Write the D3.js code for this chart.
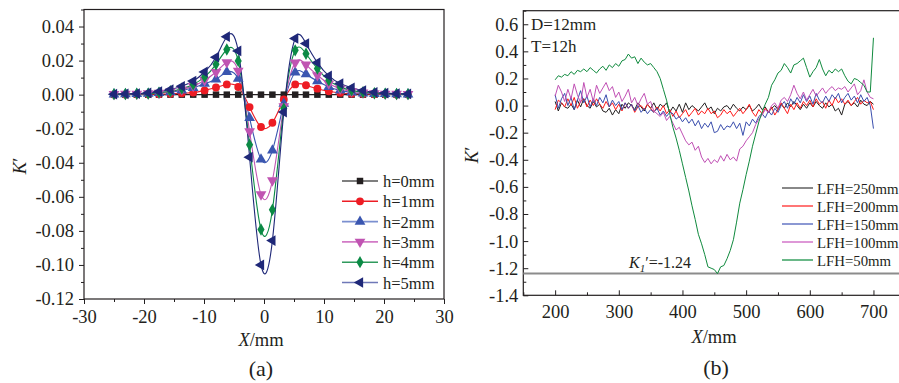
<!DOCTYPE html>
<html>
<head>
<meta charset="utf-8">
<script src="https://cdn.jsdelivr.net/npm/d3@7"></script>
<style>
  body { margin: 0; background: #fff; }
  svg { display: block; }
  svg text { font-family: "Liberation Serif", "Times New Roman", serif; }
</style>
</head>
<body>
<svg id="chart" width="899" height="383"></svg>
<script>
// ---- panel (a) data ----
const xA = [-25.0, -23.1, -21.2, -19.3, -17.5, -15.6, -13.7, -11.8, -9.9, -8.0, -6.2, -4.3, -2.4, -0.5,
  1.4, 3.3, 5.2, 7.0, 8.9, 10.8, 12.7, 14.6, 16.5, 18.4, 20.2, 22.1, 24.0];
const hLabels = ['h=0mm', 'h=1mm', 'h=2mm', 'h=3mm', 'h=4mm', 'h=5mm'];
const h0 = [0, 0, 0, 0, 0, 0, 0, 0, 0, 0, 0, 0, 0, 0, 0, 0, 0, 0, 0, 0, 0, 0, 0, 0, 0, 0, 0];
const h1 = [0.0001, 0.0001, 0.0002, 0.0002, 0.0003, 0.0005, 0.0008, 0.0012, 0.0025, 0.0042, 0.006, 0.0045,
  -0.0073, -0.019, -0.0165, -0.0028, 0.006, 0.0055, 0.0035, 0.002, 0.001, 0.0006, 0.0004, 0.0003, 0.0002, 0.0001, 0.0001];
const h2 = [0.0002, 0.0003, 0.0004, 0.0006, 0.001, 0.0015, 0.0025, 0.004, 0.0065, 0.009, 0.0133, 0.0094,
  -0.0137, -0.038, -0.0327, -0.0053, 0.013, 0.012, 0.008, 0.0045, 0.0025, 0.0013, 0.0008, 0.0005, 0.0004, 0.0003, 0.0002];
const h3 = [0.0003, 0.0004, 0.0005, 0.0007, 0.001, 0.0018, 0.003, 0.005, 0.0085, 0.0133, 0.019, 0.014,
  -0.0216, -0.0586, -0.0504, -0.0069, 0.0188, 0.0176, 0.0114, 0.0065, 0.0035, 0.002, 0.0012, 0.0008, 0.0005, 0.0004, 0.0003];
const h4 = [0.0003, 0.0004, 0.0005, 0.0006, 0.0012, 0.002, 0.0035, 0.006, 0.0104, 0.0178, 0.0265, 0.0198,
  -0.0294, -0.0792, -0.0676, -0.0082, 0.026, 0.024, 0.0153, 0.0084, 0.0045, 0.0025, 0.0014, 0.0008, 0.0006, 0.0004, 0.0003];
const h5 = [0.0003, 0.0004, 0.0006, 0.001, 0.0018, 0.003, 0.0049, 0.008, 0.0133, 0.022, 0.034, 0.0257,
  -0.0367, -0.100, -0.0857, -0.0102, 0.033, 0.030, 0.0188, 0.011, 0.0065, 0.004, 0.0024, 0.0014, 0.0009, 0.0006, 0.0004];
const hColors = ['#231f20', '#ed1c24', '#3a56b0', '#c054b2', '#0b8a45', '#1f2878'];
const hLegendColors = ['#555555', '#ed1c24', '#7b8fd0', '#d27ac6', '#2f9a5c', '#6f78b8'];
const xTicksA = [-30, -20, -10, 0, 10, 20, 30];
const yTicksA = [0.04, 0.02, 0.00, -0.02, -0.04, -0.06, -0.08, -0.10, -0.12];

// ---- panel (b) data (sampled every 5 mm from 200 to 700) ----
const xB = d3.range(200, 701, 5);
const lfhLabels = ['LFH=250mm', 'LFH=200mm', 'LFH=150mm', 'LFH=100mm', 'LFH=50mm'];
const lfh250 = [0.03, -0.04, 0.02, -0.01, -0.02, 0.01, -0.03, 0.04, -0.01, 0.05, 0.00, -0.02, 0.03, -0.01, 0.01, -0.04,
  -0.05, -0.02, -0.07, -0.03, -0.06, 0.01, -0.02, 0.02, 0.00, -0.03, 0.02, -0.01, -0.04, 0.01, -0.02, 0.02, -0.03, 0.01,
  -0.01, 0.02, -0.05, -0.01, -0.04, 0.01, -0.05, 0.02, -0.03, 0.00, -0.02, -0.04, -0.01, 0.02, -0.03, -0.01, -0.06, -0.02,
  -0.04, -0.01, 0.00, -0.03, 0.01, -0.02, -0.04, -0.01, -0.03, 0.00, -0.04, -0.02, 0.01, -0.03, -0.01, -0.05, -0.02, 0.00,
  -0.03, 0.01, -0.02, 0.02, -0.01, 0.03, 0.00, -0.03, 0.01, -0.02, 0.02, -0.01, 0.03, 0.00, -0.02, 0.02, -0.01, 0.01,
  -0.04, -0.02, -0.07, 0.01, 0.03, 0.00, 0.02, -0.01, 0.04, 0.01, 0.00, 0.03, 0.01];
const lfh200 = [-0.03, 0.04, 0.02, -0.01, 0.05, 0.00, 0.06, -0.02, 0.03, 0.05, -0.01, 0.04, 0.00, 0.05, 0.01, -0.02,
  0.03, -0.01, 0.02, -0.03, 0.01, -0.04, 0.02, -0.02, 0.01, -0.05, -0.01, 0.00, -0.03, 0.01, -0.02, -0.05, -0.01, -0.04,
  0.00, -0.06, -0.03, -0.08, -0.04, -0.09, -0.06, -0.03, -0.08, -0.05, -0.02, -0.07, -0.04, -0.06, -0.02, -0.06, -0.04,
  -0.09, -0.07, -0.03, -0.06, -0.04, -0.08, -0.05, -0.02, -0.06, -0.03, 0.01, -0.05, -0.08, -0.03, -0.06, -0.02, -0.05,
  -0.01, -0.07, -0.03, 0.02, -0.02, -0.06, 0.01, -0.03, 0.02, -0.02, 0.03, 0.00, 0.04, -0.01, 0.05, 0.01, 0.03, -0.02,
  0.04, 0.00, 0.06, 0.02, 0.05, 0.01, 0.04, 0.00, 0.03, 0.06, 0.01, 0.04, 0.02, 0.03, -0.03];
const lfh150 = [0.08, -0.02, 0.05, 0.09, 0.00, 0.06, -0.03, 0.04, 0.11, 0.02, 0.07, -0.01, 0.05, 0.00, 0.06, 0.02,
  0.08, -0.01, 0.04, 0.00, 0.03, -0.03, 0.02, -0.02, 0.01, -0.04, 0.00, -0.05, -0.02, -0.06, -0.03, -0.05, -0.02, -0.07,
  -0.04, -0.08, -0.05, -0.06, -0.10, -0.08, -0.12, -0.09, -0.13, -0.10, -0.15, -0.11, -0.17, -0.13, -0.16, -0.12, -0.20,
  -0.19, -0.14, -0.18, -0.15, -0.16, -0.12, -0.17, -0.13, -0.22, -0.12, -0.15, -0.10, -0.13, -0.08, -0.06, -0.09, -0.04,
  -0.07, -0.02, -0.05, 0.00, 0.03, -0.02, 0.05, 0.01, 0.06, 0.02, 0.08, 0.03, 0.07, 0.01, 0.09, 0.04, 0.02, 0.07, 0.03,
  0.08, 0.05, 0.09, 0.02, 0.06, 0.09, 0.04, 0.07, 0.02, 0.08, 0.03, 0.06, 0.00, -0.17];
const lfh100 = [0.07, 0.15, 0.10, 0.03, 0.12, 0.05, 0.16, 0.08, 0.02, 0.17, 0.06, 0.12, 0.03, 0.15, 0.09, 0.13, 0.17,
  0.11, 0.14, 0.06, 0.10, 0.03, 0.07, 0.12, 0.02, 0.06, 0.00, 0.05, 0.09, 0.01, 0.03, -0.04, -0.06, -0.08, -0.05, -0.11,
  -0.08, -0.13, -0.18, -0.16, -0.21, -0.26, -0.29, -0.27, -0.33, -0.30, -0.38, -0.42, -0.39, -0.43, -0.40, -0.42, -0.37,
  -0.41, -0.36, -0.40, -0.38, -0.41, -0.32, -0.30, -0.26, -0.23, -0.20, -0.14, -0.10, -0.07, -0.03, -0.05, 0.00, 0.02,
  -0.02, 0.04, 0.06, 0.03, 0.08, 0.15, 0.09, 0.05, 0.10, 0.04, 0.08, 0.12, 0.07, 0.10, 0.13, 0.09, 0.12, 0.14, 0.11, 0.13,
  0.12, 0.14, 0.10, 0.13, 0.16, 0.08, 0.11, 0.19, 0.10, 0.06, 0.05];
const lfh50 = [0.19, 0.22, 0.21, 0.23, 0.22, 0.25, 0.23, 0.26, 0.25, 0.27, 0.25, 0.28, 0.26, 0.24, 0.27, 0.29, 0.26,
  0.30, 0.28, 0.31, 0.29, 0.33, 0.34, 0.38, 0.35, 0.36, 0.31, 0.35, 0.32, 0.30, 0.31, 0.28, 0.25, 0.20, 0.12, 0.04, -0.06,
  -0.16, -0.24, -0.33, -0.43, -0.53, -0.63, -0.74, -0.84, -0.95, -1.02, -1.10, -1.19, -1.20, -1.21, -1.24, -1.19, -1.18,
  -1.13, -1.07, -0.99, -0.86, -0.72, -0.62, -0.51, -0.41, -0.30, -0.21, -0.12, -0.05, 0.01, 0.06, 0.15, 0.19, 0.24, 0.26,
  0.31, 0.28, 0.24, 0.30, 0.31, 0.33, 0.35, 0.28, 0.21, 0.25, 0.28, 0.34, 0.27, 0.22, 0.26, 0.24, 0.27, 0.25, 0.27, 0.22,
  0.18, 0.16, 0.20, 0.19, 0.17, 0.15, 0.10, 0.10, 0.50];
const lfhColors = ['#231f20', '#ff1a1a', '#3b4fae', '#c04fb4', '#108a3e'];
const lfhLegendColors = ['#555555', '#ff3b3b', '#5a6cc0', '#d06cc6', '#2a9a55'];
const xTicksB = [200, 300, 400, 500, 600, 700];
const yTicksB = [0.6, 0.4, 0.2, 0.0, -0.2, -0.4, -0.6, -0.8, -1.0, -1.2, -1.4];
const k1Value = -1.24;

const svg = d3.select('#chart');
const FS = 18.5;
const SERIF = '"Liberation Serif", "Times New Roman", serif';
const INK = '#231f20';

// plain hyphen for negative numbers, like the original figure
const loc = d3.formatLocale({ decimal: '.', thousands: ',', grouping: [3], currency: ['', ''], minus: '-' });

function styleAxis(g) {
  g.attr('font-family', null);
  g.select('.domain').remove();
  g.selectAll('line').attr('stroke', INK);
  g.selectAll('text').attr('font-size', FS).attr('font-family', SERIF).attr('fill', INK);
}

// =========== panel (a) ===========
const boxA = { left: 84, right: 444, top: 9.5, bottom: 299 };
const xa = d3.scaleLinear().domain([-30, 30]).range([boxA.left, boxA.right]);
const ya = d3.scaleLinear().domain([-0.12, 0.05]).range([boxA.bottom, boxA.top]);

const gA = svg.append('g');

// minor ticks
gA.append('g').attr('transform', 'translate(0,' + boxA.bottom + ')')
  .call(d3.axisBottom(xa).tickValues(d3.range(-25, 30, 10)).tickSize(3).tickFormat(''))
  .call(styleAxis);
gA.append('g').attr('transform', 'translate(' + boxA.left + ',0)')
  .call(d3.axisLeft(ya).tickValues([0.05, 0.03, 0.01, -0.01, -0.03, -0.05, -0.07, -0.09, -0.11]).tickSize(3).tickFormat(''))
  .call(styleAxis);

// major ticks
gA.append('g').attr('transform', 'translate(0,' + boxA.bottom + ')')
  .call(d3.axisBottom(xa).tickValues(xTicksA).tickSize(5).tickPadding(6).tickFormat(loc.format('d')))
  .call(styleAxis);
gA.append('g').attr('transform', 'translate(' + boxA.left + ',0)')
  .call(d3.axisLeft(ya).tickValues(yTicksA).tickSize(5).tickPadding(5).tickFormat(loc.format('.2f')))
  .call(styleAxis);

gA.append('rect')
  .attr('x', boxA.left).attr('y', boxA.top)
  .attr('width', boxA.right - boxA.left).attr('height', boxA.bottom - boxA.top)
  .attr('fill', 'none').attr('stroke', INK).attr('stroke-width', 1.2);

const seriesA = [h0, h1, h2, h3, h4, h5];
const symA = [
  { type: d3.symbolSquare, size: 42, rot: 0 },
  { type: d3.symbolCircle, size: 48, rot: 0 },
  { type: d3.symbolTriangle, size: 50, rot: 0 },
  { type: d3.symbolTriangle, size: 50, rot: 180 },
  { type: d3.symbolDiamond, size: 44, rot: 0 },
  { type: d3.symbolTriangle, size: 50, rot: -90 }
];

const lineA = d3.line()
  .x((d, i) => xa(xA[i]))
  .y(d => ya(d))
  .curve(d3.curveNatural);

seriesA.forEach(function (s, k) {
  gA.append('path')
    .attr('d', lineA(s))
    .attr('fill', 'none')
    .attr('stroke', hColors[k])
    .attr('stroke-width', 1.1);
});
seriesA.forEach(function (s, k) {
  gA.selectAll('.m' + k)
    .data(s)
    .enter().append('path')
    .attr('class', 'm' + k)
    .attr('d', d3.symbol().type(symA[k].type).size(symA[k].size))
    .attr('transform', (d, i) => 'translate(' + xa(xA[i]) + ',' + ya(d) + ') rotate(' + symA[k].rot + ')')
    .attr('fill', hColors[k]);
});

// legend (a)
hLabels.forEach(function (lab, k) {
  const yy = 181 + k * 20.3;
  gA.append('line').attr('x1', 342).attr('x2', 378).attr('y1', yy).attr('y2', yy)
    .attr('stroke', hLegendColors[k]).attr('stroke-width', 1.6);
  gA.append('path')
    .attr('d', d3.symbol().type(symA[k].type).size(symA[k].size)())
    .attr('transform', 'translate(360,' + yy + ') rotate(' + symA[k].rot + ')')
    .attr('fill', hColors[k]);
  gA.append('text').attr('x', 383).attr('y', yy + 6)
    .attr('font-size', 16.5).attr('fill', INK).text(lab);
});

// axis titles (a)
gA.append('text').attr('x', 261).attr('y', 346).attr('text-anchor', 'middle')
  .attr('font-size', FS).attr('fill', INK)
  .call(t => { t.append('tspan').attr('font-style', 'italic').text('X'); t.append('tspan').text('/mm'); });
gA.append('text').attr('transform', 'translate(26,166) rotate(-90)').attr('text-anchor', 'middle')
  .attr('font-size', FS).attr('fill', INK)
  .call(t => { t.append('tspan').attr('font-style', 'italic').text('K'); t.append('tspan').text('\u2032'); });
gA.append('text').attr('x', 261).attr('y', 376).attr('text-anchor', 'middle')
  .attr('font-size', 22).attr('fill', INK).text('(a)');

// =========== panel (b) ===========
const boxB = { left: 523.3, right: 905.3, top: 10.7, bottom: 295.3 };
const xb = d3.scaleLinear().domain([150, 750]).range([boxB.left, boxB.right]);
const yb = d3.scaleLinear().domain([-1.4, 0.7]).range([boxB.bottom, boxB.top]);

const gB = svg.append('g');

gB.append('g').attr('transform', 'translate(0,' + boxB.bottom + ')')
  .call(d3.axisBottom(xb).tickValues(d3.range(150, 750, 100)).tickSize(-3).tickFormat(''))
  .call(styleAxis);
gB.append('g').attr('transform', 'translate(' + boxB.left + ',0)')
  .call(d3.axisLeft(yb).tickValues(d3.range(-1.3, 0.71, 0.2)).tickSize(-3).tickFormat(''))
  .call(styleAxis);

gB.append('g').attr('transform', 'translate(0,' + boxB.bottom + ')')
  .call(d3.axisBottom(xb).tickValues(xTicksB).tickSize(-5).tickPadding(10).tickFormat(loc.format('d')))
  .call(styleAxis);
gB.append('g').attr('transform', 'translate(' + boxB.left + ',0)')
  .call(d3.axisLeft(yb).tickValues(yTicksB).tickSize(-5).tickPadding(5).tickFormat(loc.format('.1f')))
  .call(styleAxis);

gB.append('rect')
  .attr('x', boxB.left).attr('y', boxB.top)
  .attr('width', boxB.right - boxB.left).attr('height', boxB.bottom - boxB.top)
  .attr('fill', 'none').attr('stroke', INK).attr('stroke-width', 1.2);

// reference line K1'
gB.append('line')
  .attr('x1', boxB.left).attr('x2', boxB.right)
  .attr('y1', yb(k1Value)).attr('y2', yb(k1Value))
  .attr('stroke', '#8c8c8c').attr('stroke-width', 2);

const lineB = d3.line()
  .x((d, i) => xb(xB[i]))
  .y(d => yb(d));

[lfh250, lfh200, lfh150, lfh100, lfh50].forEach(function (s, k) {
  gB.append('path')
    .attr('d', lineB(s))
    .attr('fill', 'none')
    .attr('stroke', lfhColors[k])
    .attr('stroke-width', 1)
    .attr('stroke-linejoin', 'round');
});

// legend (b)
lfhLabels.forEach(function (lab, k) {
  const yy = 188 + k * 18;
  gB.append('line').attr('x1', 782).attr('x2', 813).attr('y1', yy).attr('y2', yy)
    .attr('stroke', lfhLegendColors[k]).attr('stroke-width', 1.4);
  gB.append('text').attr('x', 817).attr('y', yy + 5.5)
    .attr('font-size', 14.8).attr('fill', INK).text(lab);
});

// annotations (b)
gB.append('text').attr('x', 531).attr('y', 30).attr('font-size', 17).attr('fill', INK).text('D=12mm');
gB.append('text').attr('x', 531).attr('y', 52).attr('font-size', 17).attr('fill', INK).text('T=12h');
gB.append('text').attr('x', 629).attr('y', 268).attr('font-size', 16).attr('fill', INK)
  .call(t => {
    t.append('tspan').attr('font-style', 'italic').text('K');
    t.append('tspan').attr('font-style', 'italic').attr('font-size', 11).attr('dy', 4).text('1');
    t.append('tspan').attr('dy', -4).text('\u2032=-1.24');
  });

gB.append('text').attr('x', 714).attr('y', 343).attr('text-anchor', 'middle')
  .attr('font-size', FS).attr('fill', INK)
  .call(t => { t.append('tspan').attr('font-style', 'italic').text('X'); t.append('tspan').text('/mm'); });
gB.append('text').attr('transform', 'translate(478,155) rotate(-90)').attr('text-anchor', 'middle')
  .attr('font-size', FS).attr('fill', INK)
  .call(t => { t.append('tspan').attr('font-style', 'italic').text('K'); t.append('tspan').text('\u2032'); });
gB.append('text').attr('x', 716).attr('y', 375).attr('text-anchor', 'middle')
  .attr('font-size', 22).attr('fill', INK).text('(b)');
</script>
</body>
</html>
